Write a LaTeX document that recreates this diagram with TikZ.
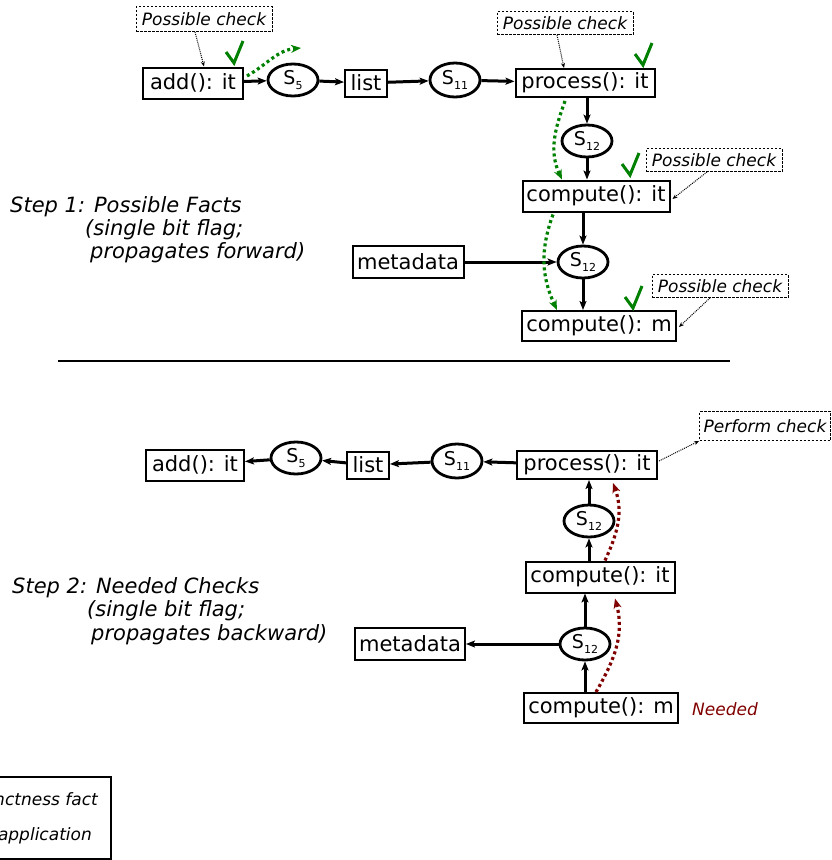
\documentclass[tikz,border=0pt]{standalone}
\usepackage{fontspec}
\setmainfont{DejaVu Sans}
\usetikzlibrary{arrows.meta,shapes.geometric,calc}
\definecolor{okgreen}{RGB}{0,128,0}
\definecolor{needred}{RGB}{128,0,0}
\newcommand{\stt}[1]{{\fontsize{19}{20}\selectfont S\raisebox{-5pt}{\fontsize{11}{12}\selectfont #1}}}

\begin{document}
\begin{tikzpicture}[x=1pt,y=1pt,
  box/.style={draw, line width=2pt, inner sep=2pt, font=\fontsize{21}{24}\selectfont},
  state/.style={draw, ellipse, line width=2.8pt, inner sep=0pt, minimum width=50pt, minimum height=32pt},
  note/.style={draw, dash pattern=on 2.5pt off 1.5pt, line width=0.9pt, inner sep=0pt,
    font=\fontsize{17}{20}\selectfont\itshape, minimum width=136pt, minimum height=23pt},
  flow/.style={line width=3pt, -{Stealth[length=9pt,width=7pt,inset=2pt]}},
  pointer/.style={densely dotted, line width=1pt, -{Stealth[length=5pt,width=4pt]}},
  fwd/.style={okgreen, line width=3.2pt, dash pattern=on 3pt off 3pt, -{Stealth[length=10pt,width=8pt]}},
  bwd/.style={needred, line width=3.2pt, dash pattern=on 3pt off 3pt, -{Stealth[length=10pt,width=8pt]}},
  caption/.style={anchor=base west, inner sep=0pt, font=\fontsize{21}{24}\selectfont\itshape},
  tick/.pic={\draw[okgreen, line width=3pt] (-8,11) -- (0,0) -- (9,22);}
]
\useasboundingbox (0,0) rectangle (831,-860);

% ---------- Step 1: forward propagation of possible facts ----------
\node[box, minimum width=100pt, minimum height=31pt] (addU) at (193,-83) {add(): it};
\node[state] (s5U) at (293,-80) {\stt{5}};
\node[box, minimum width=42pt, minimum height=27pt] (listU) at (366,-83) {list};
\node[state, minimum height=34pt] (s11U) at (455,-80) {\stt{11}};
\node[box, minimum width=139pt, minimum height=28pt] (procU) at (585,-83) {process(): it};
\node[state] (s12a) at (587,-141) {\stt{12}};
\node[box, minimum width=147pt, minimum height=31pt] (compItU) at (596,-196) {compute(): it};
\node[state] (s12b) at (583,-262) {\stt{12}};
\node[box, minimum width=111pt, minimum height=32pt] (metaU) at (408,-262) {metadata};
\node[box, minimum width=154pt, minimum height=30pt] (compMU) at (599,-326) {compute(): m};

\node[note, minimum height=25pt] (pc1) at (204,-19) {Possible check};
\node[note] (pc2) at (565,-23) {Possible check};
\node[note] (pc3) at (714,-160) {Possible check};
\node[note] (pc4) at (720,-286) {Possible check};

\draw[flow] (addU) -- (s5U);
\draw[flow] (s5U) -- (listU);
\draw[flow] (listU) -- (s11U);
\draw[flow] (s11U) -- (procU);
\draw[flow] (procU.south -| s12a) -- (s12a.north);
\draw[flow] (s12a.south) -- (s12a.south |- compItU.north);
\draw[flow] (s12b.north |- compItU.south) -- (s12b.north);
\draw[flow] (metaU) -- (s12b);
\draw[flow] (s12b.south) -- (s12b.south |- compMU.north);

\draw[pointer] ($(pc1.south)+(-9,0)$) -- ($(addU.north)+(11,0)$);
\draw[pointer] ($(pc2.south)+(-8,0)$) -- ($(procU.north)+(-21,0)$);
\draw[pointer] ($(pc3.south)+(-7,0)$) -- ($(compItU.east)+(2,-3)$);
\draw[pointer] ($(pc4.south)+(-10,0)$) -- ($(compMU.east)+(2,-1)$);

\coordinate (fwdEnd) at (301,-48);
\draw[fwd] ($(addU.east)+(3,7)$) to[out=30,in=185] (fwdEnd);
\draw[fwd] ($(procU.south)+(-20,-3)$) to[out=250,in=115] ($(compItU.north)+(-34,0)$);
\draw[fwd] ($(compItU.south)+(-43,-2)$) to[out=250,in=115] ($(compMU.north)+(-42,0)$);

\pic at (234,-63) {tick};
\pic at (643,-65) {tick};
\pic at (630,-175) {tick};
\pic at (633,-308) {tick};

\node[caption] (step1a) at (10,-212) {Step 1: Possible Facts};
\node[caption] (step1b) at (85,-235) {(single bit flag;};
\node[caption] (step1c) at (90,-258) {propagates forward)};

% separator
\draw[line width=2.5pt] (58,-361) -- (730,-361);

% ---------- Step 2: backward propagation of needed checks ----------
\node[box, minimum width=98pt, minimum height=31pt] (addL) at (195,-465) {add(): it};
\node[state] (s5L) at (296,-458) {\stt{5}};
\node[box, minimum width=42pt, minimum height=27pt] (listL) at (368,-465) {list};
\node[state, minimum height=34pt] (s11L) at (457,-461) {\stt{11}};
\node[box, minimum width=140pt, minimum height=28pt] (procL) at (587,-465) {process(): it};
\node[state] (s12c) at (589,-521) {\stt{12}};
\node[box, minimum width=149pt, minimum height=31pt] (compItL) at (600,-577) {compute(): it};
\node[state] (s12d) at (585,-644) {\stt{12}};
\node[box, minimum width=110pt, minimum height=32pt] (metaL) at (410,-644) {metadata};
\node[box, minimum width=154pt, minimum height=30pt] (compML) at (601,-708) {compute(): m};

\node[note, minimum width=131pt, minimum height=29pt] (perform) at (765,-426) {Perform check};
\node[anchor=base west, inner sep=0pt, text=needred, font=\fontsize{17}{20}\selectfont\itshape] (needed) at (692,-715) {Needed};

\draw[flow] (s5L) -- (addL);
\draw[flow] (listL) -- (s5L);
\draw[flow] (s11L) -- (listL);
\draw[flow] (procL) -- (s11L);
\draw[flow] (s12c.north) -- (s12c.north |- procL.south);
\draw[flow] (s12c.south |- compItL.north) -- (s12c.south);
\draw[flow] (s12d.north) -- (s12d.north |- compItL.south);
\draw[flow] (s12d.south |- compML.north) -- (s12d.south);
\draw[flow] (s12d) -- (metaL);

\draw[pointer] ($(procL.east)+(1,4)$) -- (perform.south west);

\draw[bwd] ($(compItL.north)+(5,0)$) to[out=65,in=-70] ($(procL.south)+(26,-3)$);
\draw[bwd] ($(compML.north)+(-5,0)$) to[out=60,in=-75] ($(compItL.south)+(15,-5)$);

\node[caption] (step2a) at (12,-593) {Step 2: Needed Checks};
\node[caption] (step2b) at (87,-616) {(single bit flag;};
\node[caption] (step2c) at (91,-640) {propagates backward)};

% ---------- legend ----------
\draw[line width=2.5pt] (-60,-777) rectangle (111,-859);
\node[anchor=base east, inner sep=0pt, font=\fontsize{17}{20}\selectfont\itshape] (legendA) at (98,-805) {nctness fact};
\node[anchor=base east, inner sep=0pt, font=\fontsize{17}{20}\selectfont\itshape] (legendB) at (92,-840) {application};
\end{tikzpicture}
\end{document}
